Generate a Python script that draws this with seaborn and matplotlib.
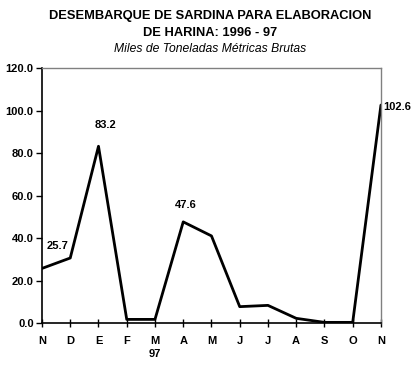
import pandas as pd
import seaborn as sns
import matplotlib.pyplot as plt

# monthly landings, Nov 1996 - Nov 1997 (thousand metric tons)
meses = ['N', 'D', 'E', 'F', 'M', 'A', 'M', 'J', 'J', 'A', 'S', 'O', 'N']
toneladas = [25.7, 30.6, 83.2, 1.7, 1.7, 47.6, 41.0, 7.7, 8.3, 2.2, 0.3, 0.3, 102.6]
etiquetas = {0: '25.7', 2: '83.2', 5: '47.6', 12: '102.6'}

df = pd.DataFrame({'pos': range(len(meses)), 'valor': toneladas})

sns.set_style("white")
plt.rcParams['font.family'] = ['Liberation Sans', 'DejaVu Sans']
plt.rcParams['text.color'] = 'black'
plt.rcParams['xtick.color'] = 'black'
plt.rcParams['ytick.color'] = 'black'

fig = plt.figure(figsize=(4.2, 3.7), dpi=100)
ax = fig.add_axes([0.1, 0.127, 0.807, 0.689])

sns.lineplot(x='pos', y='valor', data=df, color='black', linewidth=2.0, ax=ax)

ax.set_xlim(0, 12)
ax.set_ylim(0, 120)
ax.set_yticks(range(0, 121, 20))
ax.set_yticklabels([f"{v:.1f}" for v in range(0, 121, 20)], fontsize=8, fontweight='bold')
ax.set_xticks(range(len(meses)))
ax.set_xticklabels(meses, fontsize=8, fontweight='bold')
ax.set_xlabel('')
ax.set_ylabel('')
ax.tick_params(axis='y', direction='out', length=4, width=1, color='black', left=True, pad=2)
ax.tick_params(axis='x', direction='inout', length=6, width=1, color='black', bottom=True, pad=6)

for s in ['top', 'right']:
    ax.spines[s].set_color('#808080')
    ax.spines[s].set_linewidth(1)
for s in ['left', 'bottom']:
    ax.spines[s].set_color('black')
    ax.spines[s].set_linewidth(1.2)

# data labels (offsets in pixels)
desplaz = {0: (16, 22), 2: (7, 21), 5: (3, 17), 12: (2, -2)}
for i, txt in etiquetas.items():
    ha = 'left' if i == 12 else 'center'
    ax.annotate(txt, (i, toneladas[i]), xytext=desplaz[i], textcoords='offset pixels',
                ha=ha, va='center', fontsize=8, fontweight='bold')

# year marker under the first "M"
ax.annotate('97', (4, 0), xytext=(0, -31), textcoords='offset pixels',
            ha='center', va='center', fontsize=8, fontweight='bold')

fig.text(0.5, 0.957, 'DESEMBARQUE DE SARDINA PARA ELABORACION', ha='center', va='center',
         fontsize=9.3, fontweight='bold')
fig.text(0.5, 0.91, 'DE HARINA: 1996 - 97', ha='center', va='center',
         fontsize=9.3, fontweight='bold')
fig.text(0.5, 0.868, 'Miles de Toneladas Métricas Brutas', ha='center', va='center',
         fontsize=8.7, style='italic')

fig.savefig('out.png', dpi=100)
